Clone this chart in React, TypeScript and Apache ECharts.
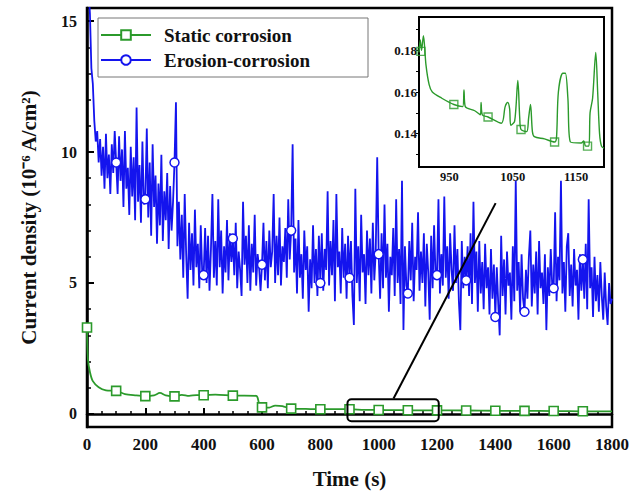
import React, { useEffect, useRef } from "react";
import * as echarts from "echarts";

// ---- data ----
const timeStepErosion = 5; // s between samples of the erosion-corrosion record
const erosionValues: number[] = [
  17.5, 16.2, 15.3, 13.2, 12.6, 11.2, 10.4, 10.8, 9.6, 10.5, 9.1, 10.2, 8.6, 10.7, 9.0, 9.9, 8.4, 10.3, 9.2, 10.8,
  9.6, 8.4, 10.6, 8.9, 10.1, 7.9, 10.8, 8.6, 9.4, 7.6, 10.2, 8.3, 9.8, 7.4, 11.7, 8.1, 9.5, 7.3, 10.4, 8.0,
  8.2, 10.9, 7.5, 9.6, 6.8, 10.3, 7.9, 9.1, 6.5, 8.8, 7.2, 9.9, 6.6, 8.5, 7.4, 9.2, 6.3, 8.7, 7.0, 8.1,
  9.6, 11.9, 6.4, 8.1, 5.9, 7.6, 5.2, 8.4, 6.1, 4.4, 7.3, 5.5, 6.9, 4.9, 7.8, 5.6, 6.5, 4.8, 7.2, 5.4,
  5.3, 7.1, 5.0, 6.8, 4.7, 6.3, 8.4, 5.2, 6.6, 4.9, 8.2, 5.6, 7.0, 4.6, 6.4, 5.4, 7.4, 5.1, 6.9, 5.8,
  6.7, 5.3, 7.3, 4.8, 6.2, 5.5, 4.5, 8.1, 5.7, 6.8, 5.0, 7.2, 4.7, 6.5, 5.4, 7.6, 4.9, 6.1, 5.6, 4.7,
  5.7, 7.3, 5.1, 6.6, 4.8, 7.0, 5.6, 6.2, 8.4, 5.0, 6.8, 5.3, 7.5, 4.9, 6.4, 5.8, 7.1, 5.2, 8.2, 5.9,
  7.0, 10.3, 5.4, 6.7, 4.6, 7.4, 5.2, 6.1, 4.4, 7.0, 5.5, 6.4, 3.9, 5.9, 4.8, 7.2, 5.0, 6.3, 4.5, 6.8,
  5.0, 6.9, 4.7, 6.3, 5.5, 8.5, 4.9, 6.6, 5.3, 7.4, 4.3, 8.4, 5.6, 6.2, 4.6, 7.1, 5.2, 6.5, 4.4, 6.8,
  5.2, 6.6, 4.5, 3.4, 8.6, 5.0, 6.4, 4.3, 7.6, 5.4, 6.1, 4.2, 7.0, 5.3, 6.7, 4.6, 7.3, 5.1, 6.2, 9.8,
  6.1, 4.4, 6.9, 4.8, 8.0, 5.2, 6.5, 3.9, 6.0, 5.3, 7.1, 4.5, 8.2, 5.0, 6.3, 4.2, 8.9, 3.2, 6.4, 4.9,
  4.6, 6.6, 5.1, 7.3, 4.3, 6.0, 5.5, 7.7, 4.7, 6.2, 5.0, 6.9, 4.1, 6.5, 5.4, 3.6, 6.8, 4.8, 7.2, 5.3,
  5.3, 8.2, 4.6, 6.1, 4.9, 8.3, 5.2, 6.4, 4.4, 6.9, 5.5, 4.7, 7.2, 5.0, 6.3, 4.3, 3.2, 6.6, 4.8, 6.0,
  5.1, 6.4, 4.5, 6.9, 4.2, 8.1, 5.0, 6.2, 3.9, 6.6, 4.6, 5.8, 4.0, 6.5, 4.8, 5.6, 3.8, 6.3, 4.4, 5.7,
  3.7, 5.6, 4.2, 3.0, 6.8, 4.5, 5.9, 3.8, 6.2, 4.9, 5.4, 3.6, 6.4, 4.3, 8.9, 4.7, 5.8, 3.9, 6.1, 4.4,
  3.9, 5.5, 4.4, 6.0, 7.0, 4.1, 5.7, 4.6, 6.2, 3.8, 6.6, 4.8, 5.4, 4.2, 6.1, 3.2, 5.6, 4.5, 6.3, 4.9,
  4.8, 7.7, 4.3, 6.0, 5.1, 8.9, 4.6, 5.8, 3.9, 6.4, 6.9, 4.5, 5.7, 4.1, 6.3, 4.9, 5.5, 3.6, 6.1, 4.7,
  5.9, 4.4, 6.5, 4.0, 8.2, 4.8, 5.6, 3.7, 6.0, 4.3, 5.3, 3.9, 5.8, 4.5, 3.6, 5.4, 4.1, 3.4, 5.0, 4.2,
  4.4,
];

const staticTimes: number[] = [
  0, 3, 10, 20, 40, 65, 100, 130, 165, 200, 230, 250, 270, 300, 325, 350, 375, 400, 440, 500, 580, 590,
  600, 625, 645, 670, 700, 750, 800, 850, 900, 950, 1000, 1050, 1100, 1150, 1200, 1300, 1400, 1500, 1600,
  1700, 1800,
];
const staticValues: number[] = [
  3.3, 2.1, 1.6, 1.25, 1.02, 0.9, 0.88, 0.76, 0.71, 0.68, 0.71, 0.8, 0.71, 0.67, 0.73, 0.69, 0.72, 0.71,
  0.74, 0.7, 0.69, 0.4, 0.25, 0.24, 0.32, 0.3, 0.2, 0.19, 0.18, 0.18, 0.18, 0.155, 0.15, 0.145, 0.138,
  0.136, 0.134, 0.13, 0.12, 0.115, 0.11, 0.1, 0.095,
];

const insetTimes: number[] = [
  902, 904, 906, 909, 913, 918, 923, 938, 957, 971, 973, 975, 990, 999, 1000, 1002, 1011, 1032, 1038,
  1042, 1045, 1047, 1053, 1058, 1061, 1063, 1072, 1075, 1078, 1081, 1084, 1100, 1116, 1119, 1122, 1129,
  1133, 1137, 1141, 1158, 1162, 1165, 1170, 1172, 1176, 1181, 1184, 1187, 1190, 1194,
];
const insetValues: number[] = [
  0.179, 0.185, 0.18, 0.187, 0.173, 0.1635, 0.16, 0.157, 0.154, 0.153, 0.161, 0.153, 0.151, 0.149, 0.155,
  0.149, 0.148, 0.145, 0.153, 0.155, 0.152, 0.144, 0.146, 0.1655, 0.1475, 0.142, 0.141, 0.1475, 0.154,
  0.141, 0.1386, 0.1375, 0.136, 0.138, 0.16, 0.169, 0.169, 0.157, 0.136, 0.1355, 0.1365, 0.134, 0.134,
  0.15, 0.157, 0.179, 0.16, 0.14, 0.134, 0.133,
];
const insetMarkerTimes: number[] = [905, 957, 1011, 1063, 1116, 1168];
const insetMarkerValues: number[] = [0.1795, 0.154, 0.148, 0.142, 0.136, 0.134];

const seriesNames = ["Static corrosion", "Erosion-corrosion"];
const xAxisTitle = "Time (s)";
const yAxisTitle = "Current density (10\u207B\u2076 A/cm\u00B2)";
const yLabelValues = [0, 5, 10, 15];
const yTickValues = [0, 1, 2, 3, 4, 5, 6, 7, 8, 9, 10, 11, 12, 13, 14, 15];
const insetXLabelValues = [950, 1050, 1150];
const insetXTickValues = [950, 1000, 1050, 1100, 1150];
const insetYLabelValues = [0.14, 0.16, 0.18];
const insetYTickValues = [0.13, 0.14, 0.15, 0.16, 0.17, 0.18, 0.19];
const markerSpacing = 100; // s between symbols on the main curves
const zoomWindow = { t0: 893, t1: 1206, v0: -0.28, v1: 0.56 };
const arrowFrom = [1051, 0.59];
const arrowTo = [1401, 8.05];

const FONT = '"Liberation Serif", "Times New Roman", serif';
const GREEN = "#2b9a2b";
const BLUE = "#1414ee";

export default function App() {
  const ref = useRef<HTMLDivElement>(null);

  useEffect(() => {
    if (!ref.current) return;
    const chart = echarts.init(ref.current, undefined, { renderer: "svg" });

    const erosionData = erosionValues.map((v, i) => {
      const t = i * timeStepErosion;
      const marked = t % markerSpacing === 0 && t > 0 && t < 1800;
      return marked ? { value: [t, v] } : { value: [t, v], symbol: "none" };
    });
    const staticData = staticTimes.map((t, i) => {
      const marked = t % markerSpacing === 0 && t < 1800;
      return marked ? { value: [t, staticValues[i]] } : { value: [t, staticValues[i]], symbol: "none" };
    });
    const insetData = insetTimes.map((t, i) => [t, insetValues[i]]);
    const insetMarkers = insetMarkerTimes.map((t, i) => [t, insetMarkerValues[i]]);

    const boldText = { fontFamily: FONT, fontWeight: "bold" as const, color: "#111" };
    const plain = (v: number) => String(v);

    chart.setOption({
      animation: false,
      backgroundColor: "#fff",
      grid: [
        { left: 87, right: 28, top: 8, bottom: 63, show: true, borderColor: "#000", borderWidth: 2.5, backgroundColor: "transparent" },
        { left: 419, right: 36, top: 17, bottom: 327, show: true, borderColor: "#000", borderWidth: 2, backgroundColor: "#fff", z: 5 },
      ],
      legend: {
        left: 100,
        top: 25,
        padding: 0,
        orient: "vertical",
        itemWidth: 50,
        itemHeight: 12,
        itemGap: 5,
        data: seriesNames,
        textStyle: { ...boldText, fontSize: 19, lineHeight: 20, padding: [0, 0, 0, 8] },
      },
      xAxis: [
        {
          type: "value",
          gridIndex: 0,
          min: 0,
          max: 1800,
          interval: 200,
          name: xAxisTitle,
          nameLocation: "middle",
          nameGap: 41,
          nameTextStyle: { ...boldText, fontSize: 21 },
          axisLine: { lineStyle: { color: "#000", width: 2.5 } },
          axisTick: { inside: true, length: 6, lineStyle: { color: "#000", width: 2 } },
          minorTick: { show: true, splitNumber: 4, length: 3, lineStyle: { color: "#000", width: 1.5 } },
          axisLabel: { ...boldText, fontSize: 17, margin: 9, formatter: plain },
          splitLine: { show: false },
        },
        {
          type: "value",
          gridIndex: 1,
          min: 902,
          max: 1194,
          axisLine: { lineStyle: { color: "#000", width: 2 } },
          axisTick: { inside: true, length: 3, customValues: insetXTickValues, lineStyle: { color: "#000", width: 1 } },
          axisLabel: { ...boldText, fontSize: 12.5, margin: 3, customValues: insetXLabelValues, formatter: plain },
          splitLine: { show: false },
        },
      ],
      yAxis: [
        {
          type: "value",
          gridIndex: 0,
          min: -0.5,
          max: 15.5,
          name: yAxisTitle,
          nameLocation: "middle",
          nameGap: 48,
          nameRotate: 90,
          nameTextStyle: { ...boldText, fontSize: 21 },
          axisLine: { lineStyle: { color: "#000", width: 2.5 } },
          axisTick: { inside: true, length: 4, customValues: yTickValues, lineStyle: { color: "#000", width: 1.5 } },
          axisLabel: { ...boldText, fontSize: 16, margin: 10, customValues: yLabelValues, formatter: plain },
          splitLine: { show: false },
        },
        {
          type: "value",
          gridIndex: 0,
          min: -0.5,
          max: 15.5,
          position: "left",
          offset: 0,
          axisLine: { show: false },
          axisTick: { inside: true, length: 7, customValues: yLabelValues, lineStyle: { color: "#000", width: 2 } },
          axisLabel: { show: false },
          splitLine: { show: false },
        },
        {
          type: "value",
          gridIndex: 1,
          min: 0.124,
          max: 0.196,
          axisLine: { lineStyle: { color: "#000", width: 2 } },
          axisTick: { inside: false, length: 3, customValues: insetYTickValues, lineStyle: { color: "#000", width: 1 } },
          axisLabel: {
            ...boldText,
            fontSize: 13,
            margin: 2,
            customValues: insetYLabelValues,
            formatter: (v: number) => v.toFixed(2),
          },
          splitLine: { show: false },
        },
      ],
      series: [
        {
          name: seriesNames[0],
          type: "line",
          xAxisIndex: 0,
          yAxisIndex: 0,
          data: staticData,
          smooth: 0.3,
          symbol: "rect",
          symbolSize: 9,
          showSymbol: true,
          lineStyle: { color: GREEN, width: 1.8 },
          itemStyle: { color: "#fff", borderColor: GREEN, borderWidth: 1.6 },
          z: 3,
        },
        {
          name: seriesNames[1],
          type: "line",
          xAxisIndex: 0,
          yAxisIndex: 0,
          data: erosionData,
          symbol: "circle",
          symbolSize: 9,
          showSymbol: true,
          lineStyle: { color: BLUE, width: 1.8 },
          itemStyle: { color: "#fff", borderColor: BLUE, borderWidth: 1.5 },
          z: 2,
          markLine: {
            silent: true,
            symbol: ["none", "arrow"],
            symbolSize: [0, 10],
            label: { show: false },
            lineStyle: { color: "#000", width: 2, type: "solid" },
            data: [[{ coord: arrowFrom }, { coord: arrowTo }]],
          },
        },
        {
          name: "inset",
          type: "line",
          xAxisIndex: 1,
          yAxisIndex: 2,
          data: insetData,
          smooth: 0.3,
          showSymbol: false,
          lineStyle: { color: GREEN, width: 1.4 },
          z: 6,
        },
        {
          name: "insetMarkers",
          type: "scatter",
          xAxisIndex: 1,
          yAxisIndex: 2,
          data: insetMarkers,
          symbol: "rect",
          symbolSize: 8,
          itemStyle: { color: "transparent", borderColor: GREEN, borderWidth: 1.4 },
          z: 7,
        },
      ],
    });

    const p0 = chart.convertToPixel({ gridIndex: 0 }, [zoomWindow.t0, zoomWindow.v1]) as number[];
    const p1 = chart.convertToPixel({ gridIndex: 0 }, [zoomWindow.t1, zoomWindow.v0]) as number[];
    chart.setOption({
      graphic: [
        {
          type: "rect",
          shape: { x: 98, y: 18, width: 270, height: 59 },
          style: { fill: "none", stroke: "#777", lineWidth: 1 },
          z: 10,
          silent: true,
        },
        {
          type: "rect",
          shape: { x: p0[0], y: p0[1], width: p1[0] - p0[0], height: p1[1] - p0[1], r: 4 },
          style: { fill: "none", stroke: "#000", lineWidth: 2 },
          z: 10,
          silent: true,
        },
      ],
    });

    return () => chart.dispose();
  }, []);

  return <div ref={ref} style={{ width: 640, height: 494, position: "absolute", left: 0, top: 0 }} />;
}
